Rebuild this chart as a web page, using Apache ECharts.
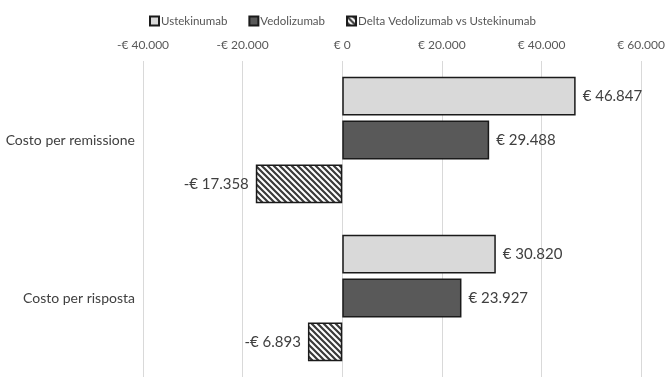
<!DOCTYPE html>
<html>
<head>
<meta charset="utf-8">
<style>
  html, body { margin: 0; padding: 0; background: #ffffff; }
  #chart { width: 668px; height: 377px; }
</style>
<script src="https://cdn.jsdelivr.net/npm/echarts@6/dist/echarts.min.js"></script>
</head>
<body>
<div id="chart"></div>
<script>
// Cost per outcome: Ustekinumab vs Vedolizumab
const categories = ['Costo per remissione', 'Costo per risposta'];
const seriesNames = ['Ustekinumab', 'Vedolizumab', 'Delta Vedolizumab vs Ustekinumab'];
const ustekinumab = [46847, 30820];
const vedolizumab = [29488, 23927];
const delta = [-17358, -6893];
const axisTicks = [-40000, -20000, 0, 20000, 40000, 60000];

function euro(v) {
  const abs = Math.abs(v).toString().replace(/\B(?=(\d{3})+(?!\d))/g, '.');
  return (v < 0 ? '-€ ' : '€ ') + abs;
}

// diagonal hatch fill for the delta bars
function hatch() {
  const c = document.createElement('canvas');
  const s = 6;
  c.width = s; c.height = s;
  const g = c.getContext('2d');
  g.fillStyle = '#ffffff';
  g.fillRect(0, 0, s, s);
  g.strokeStyle = '#3a3a3a';
  g.lineWidth = 2.2;
  g.beginPath();
  g.moveTo(-1, -1); g.lineTo(s + 1, s + 1);
  g.moveTo(-1, s - 1); g.lineTo(1, s + 1);
  g.moveTo(s - 1, -1); g.lineTo(s + 1, 1);
  g.stroke();
  return c;
}

const font = 'Lato, "Open Sans", sans-serif';
const fills = ['#d9d9d9', '#595959', { image: hatch(), repeat: 'repeat' }];
const values = [ustekinumab, vedolizumab, delta];

const chart = echarts.init(document.getElementById('chart'), null, { renderer: 'canvas' });
chart.setOption({
  animation: false,
  textStyle: { fontFamily: font },
  legend: {
    top: 10,
    left: 144,
    itemWidth: 9,
    itemHeight: 9,
    itemGap: 21,
    icon: 'rect',
    textStyle: { fontFamily: font, fontSize: 11.5, color: '#555555', padding: [0, 0, 0, -3] },
    data: seriesNames
  },
  grid: { left: 143, right: 24, top: 61, height: 319, containLabel: false },
  xAxis: {
    type: 'value',
    position: 'top',
    min: axisTicks[0],
    max: axisTicks[axisTicks.length - 1],
    interval: 20000,
    axisLine: { show: false },
    axisTick: { show: false },
    axisLabel: {
      margin: 10,
      fontFamily: font,
      fontSize: 12,
      color: '#595959',
      formatter: euro
    },
    splitLine: { lineStyle: { color: '#d9d9d9', width: 1 } }
  },
  yAxis: {
    type: 'category',
    inverse: true,
    data: categories,
    axisLine: { show: false },
    axisTick: { show: false },
    axisLabel: { margin: 8, fontFamily: font, fontSize: 14, color: '#404040' }
  },
  series: seriesNames.map((name, i) => ({
    name: name,
    type: 'bar',
    data: values[i],
    barGap: '13%',
    barCategoryGap: '20%',
    itemStyle: { color: fills[i], borderColor: '#1a1a1a', borderWidth: 1.5 },
    label: {
      show: true,
      position: i === 2 ? 'left' : 'right',
      distance: 7,
      fontFamily: font,
      fontSize: 15,
      color: '#404040',
      formatter: p => euro(p.value)
    }
  }))
});
</script>
</body>
</html>
